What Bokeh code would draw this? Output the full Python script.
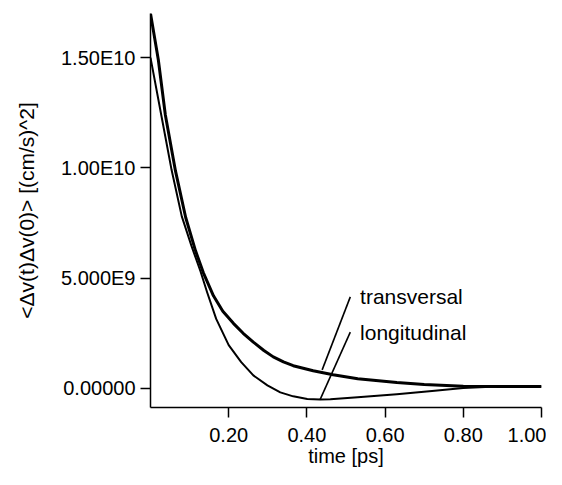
import numpy as np
from bokeh.plotting import figure
from bokeh.models import Range1d, FixedTicker, NumeralTickFormatter
from bokeh.core.properties import value
from bokeh.embed import file_html
from bokeh.resources import INLINE

SCALE = 1e9  # values below are in units of 1e9 (cm/s)^2

# transversal correlation
t_trans = [0.000, 0.020, 0.038, 0.064, 0.090, 0.115, 0.135, 0.161, 0.185,
           0.212, 0.237, 0.263, 0.290, 0.314, 0.340, 0.365, 0.416, 0.467, 0.530,
           0.630, 0.700, 0.800, 0.900, 1.000]
v_trans = [17.0, 14.9, 12.4, 9.85, 7.75, 6.25, 5.25, 4.2, 3.5,
           2.95, 2.5, 2.1, 1.72, 1.43, 1.2, 1.03, 0.80, 0.62, 0.44,
           0.27, 0.18, 0.10, 0.09, 0.09]

# longitudinal correlation
t_long = [0.000, 0.028, 0.054, 0.080, 0.105, 0.128, 0.145, 0.168, 0.200, 0.232,
          0.263, 0.299, 0.332, 0.365, 0.401, 0.434, 0.460, 0.530, 0.630, 0.720,
          0.800, 0.870, 1.000]
v_long = [15.0, 12.35, 9.9, 7.8, 6.45, 5.3, 4.35, 3.15, 1.96, 1.19,
          0.59, 0.14, -0.18, -0.36, -0.48, -0.50, -0.49, -0.40, -0.27, -0.12,
          0.02, 0.08, 0.09]

x_ticks = [0.2, 0.4, 0.6, 0.8, 1.0]
y_ticks = [0, 5, 10, 15]
y_tick_labels = ["0.00000", "5.000E9", "1.00E10", "1.50E10"]

labels = ["transversal", "longitudinal"]
label_x = [0.536, 0.536]
label_y = [4.15, 2.55]
leader_x0 = [0.439, 0.434]
leader_y0 = [0.84, -0.50]
leader_x1 = [0.511, 0.511]
leader_y1 = [4.15, 2.55]

FONT = "Liberation Sans"

p = figure(width=546, height=469, output_backend="svg", toolbar_location=None,
           x_range=Range1d(0, 1.0), y_range=Range1d(-0.866 * SCALE, 17.0 * SCALE),
           min_border_left=150, min_border_right=5, min_border_top=13, min_border_bottom=10)
p.outline_line_color = None
p.xgrid.visible = False
p.ygrid.visible = False
p.background_fill_color = "white"

p.line(t_trans, np.array(v_trans) * SCALE, line_color="black", line_width=3,
       line_join="round")
p.line(t_long, np.array(v_long) * SCALE, line_color="black", line_width=2,
       line_join="round")

p.segment(x0=leader_x0, y0=np.array(leader_y0) * SCALE, x1=leader_x1,
          y1=np.array(leader_y1) * SCALE, line_color="black", line_width=1.6)
p.text(x=label_x, y=np.array(label_y) * SCALE, text=labels, text_font=value(FONT),
       text_font_size="21px", text_baseline="middle", text_align="left", text_color="black")

for ax in (p.xaxis[0], p.yaxis[0]):
    ax.axis_line_color = "black"
    ax.axis_line_width = 1.5
    ax.major_tick_line_color = "black"
    ax.major_tick_line_width = 1.5
    ax.major_tick_out = 10
    ax.major_tick_in = 0
    ax.minor_tick_line_color = None
    ax.major_label_text_font = FONT
    ax.major_label_text_font_size = "20px"
    ax.major_label_text_color = "black"
    ax.axis_label_text_font = FONT
    ax.axis_label_text_font_size = "20px"
    ax.axis_label_text_font_style = "normal"
    ax.axis_label_text_color = "black"

p.xaxis.ticker = FixedTicker(ticks=x_ticks)
p.xaxis.formatter = NumeralTickFormatter(format="0.00")
p.xaxis.axis_label = "time [ps]"
p.xaxis.major_label_standoff = 10
p.xaxis.axis_label_standoff = 0

p.yaxis.ticker = FixedTicker(ticks=[v * SCALE for v in y_ticks])
p.yaxis.major_label_overrides = {int(v * SCALE): s for v, s in zip(y_ticks, y_tick_labels)}
p.yaxis.axis_label = "<Δv(t)Δv(0)> [(cm/s)^2]"
p.yaxis.axis_label_text_font_size = "21px"
p.yaxis.major_label_standoff = 5
p.yaxis.axis_label_standoff = 20

open("out.html", "w").write(file_html(p, INLINE))
